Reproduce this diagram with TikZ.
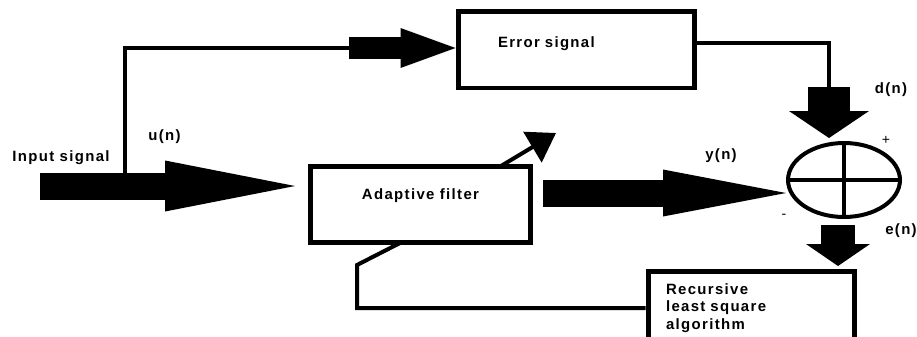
\documentclass[tikz,border=0pt]{standalone}
\usepackage{fontspec}
\setmainfont{Liberation Sans}[LetterSpace=9]
\usetikzlibrary{arrows.meta,shapes.geometric}

\tikzset{
  block/.style={draw,rectangle,line width=0.1cm,font=\fontsize{8.5}{10}\selectfont\bfseries},
  wire/.style={line width=0.08cm},
  lbl/.style={font=\fontsize{8.5}{10}\selectfont\bfseries,inner sep=0pt},
}

\begin{document}
\begin{tikzpicture}[x=0.02cm,y=-0.02cm]
      \useasboundingbox (0,0) rectangle (917,336);

      \node[block,minimum width=4.42cm,minimum height=1.52cm,text depth=0.39cm] (filter) at (420.5,204) {Adaptive filter};
      \node[block,minimum width=4.74cm,minimum height=1.54cm,inner xsep=0.8cm,text width=3.14cm,align=left,text depth=0.3cm] (err) at (576.5,49.5) {Error signal};
      \node[block,minimum width=4.14cm,minimum height=1.46cm,inner xsep=0.36cm,text width=3.42cm,align=left] (rls) at (751.5,308) {Recursive\\least square\\algorithm};
      \node[draw,ellipse,line width=0.08cm,minimum width=2.24cm,minimum height=1.48cm,inner sep=0pt] (sum) at (844,180) {};
      \draw[wire] (sum.north) -- (sum.south) (sum.west) -- (sum.east);

      \coordinate (inp) at (40,186);
      \coordinate (br) at (125,186);
      \coordinate (topa) at (349,48);
      \coordinate (dtop) at (829,87);
      \coordinate (yout) at (543,193);
      \coordinate (etop) at (838,225);
      \coordinate (adjs) at (501,166);
      \coordinate (adje) at (556,133);
      \coordinate (fb) at (357,265);
      \coordinate (fbend) at (400,243);

      \draw[line width=0.54cm,-{Triangle[length=2.6cm,width=1.02cm,line width=0pt]},shorten >=0.25cm] (inp) -- (inp -| filter.west);
      \draw[wire] (br) |- (topa);
      \draw[line width=0.44cm,-{Triangle[length=1.1cm,width=0.8cm,line width=0pt]}] (topa) -- (topa -| err.west);
      \draw[wire] ([yshift=0.13cm]err.east) -| (dtop);
      \draw[line width=0.84cm,-{Triangle[length=0.54cm,width=1.6cm,line width=0pt]},shorten >=0.06cm] (dtop) -- (dtop |- sum.north);
      \draw[line width=0.54cm,-{Triangle[length=2.46cm,width=0.94cm,line width=0pt]}] (yout) -- (yout -| sum.west);
      \draw[line width=0.68cm,-{Triangle[length=0.44cm,width=1.28cm,line width=0pt]},shorten >=0.06cm] (etop) -- (etop |- rls.north);
      \draw[wire,-{Triangle[length=0.55cm,width=0.7cm]}] (adjs) -- (adje);
      \draw[wire] (rls.west) -| (fb) -- (fbend);

      \node[lbl,anchor=west] (insig) at (12,158) {Input signal};
      \node[lbl,anchor=west] (u) at (148,137) {u(n)};
      \node[lbl] (y) at (721,156) {y(n)};
      \node[lbl] (d) at (891,90) {d(n)};
      \node[lbl] (e) at (901,231) {e(n)};
      \node[font=\footnotesize] (plus) at (886,140) {+};
      \node[font=\footnotesize] (minus) at (784,216) {-};
\end{tikzpicture}
\end{document}
